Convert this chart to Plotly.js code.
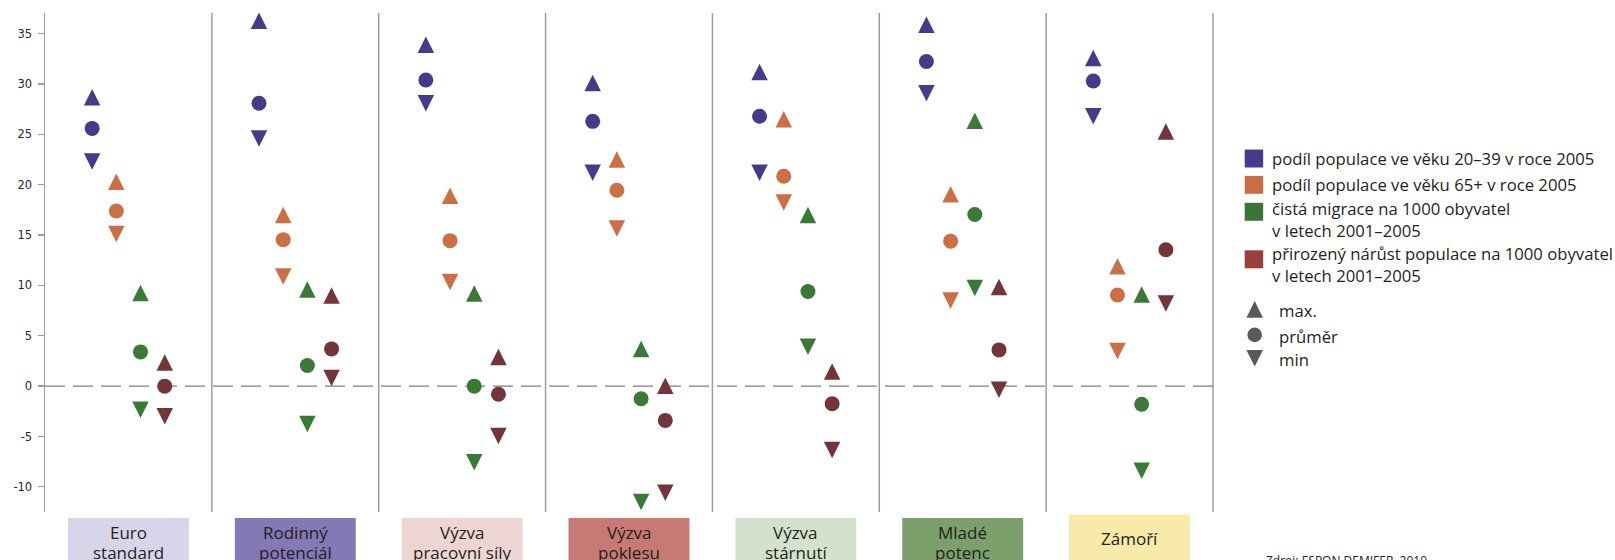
<!DOCTYPE html>
<html>
<head>
<meta charset="utf-8">
<script src="https://cdn.plot.ly/plotly-3.0.1.min.js"></script>
<style>
  html, body { margin: 0; padding: 0; background: #ffffff; }
  #chart { width: 1615px; height: 560px; }
</style>
</head>
<body>
<div id="chart"></div>
<script>
// ---------- DATA ----------
const categories = [
  "Euro<br>standard",
  "Rodinný<br>potenciál",
  "Výzva<br>pracovní síly",
  "Výzva<br>poklesu",
  "Výzva<br>stárnutí",
  "Mladé<br>potenc",
  "Zámoří"
];
const seriesNames = [
  "podíl populace ve věku 20–39 v roce 2005",
  "podíl populace ve věku 65+ v roce 2005",
  "čistá migrace na 1000 obyvatel<br>v letech 2001–2005",
  "přirozený nárůst populace na 1000 obyvatel<br>v letech 2001–2005"
];
const statNames = ["max.", "průměr", "min"];

// podíl populace 20–39
const young_max  = [28.7, 36.3, 33.9, 30.1, 31.2, 35.9, 32.6];
const young_mean = [25.6, 28.1, 30.4, 26.3, 26.8, 32.25, 30.3];
const young_min  = [22.3, 24.6, 28.1, 21.2, 21.2, 29.1, 26.8];
// podíl populace 65+
const old_max  = [20.3, 17.0, 18.9, 22.5, 26.5, 19.05, 11.9];
const old_mean = [17.4, 14.55, 14.45, 19.45, 20.85, 14.4, 9.05];
const old_min  = [15.1, 10.9, 10.35, 15.65, 18.25, 8.5, 3.5];
// čistá migrace
const mig_max  = [9.25, 9.6, 9.2, 3.7, 17.0, 26.35, 9.1];
const mig_mean = [3.4, 2.05, 0.0, -1.25, 9.4, 17.05, -1.8];
const mig_min  = [-2.35, -3.75, -7.55, -11.5, 3.9, 9.75, -8.4];
// přirozený nárůst
const nat_max  = [2.35, 9.0, 2.9, 0.05, 1.45, 9.85, 25.3];
const nat_mean = [0.0, 3.7, -0.8, -3.4, -1.75, 3.6, 13.55];
const nat_min  = [-3.0, 0.8, -4.95, -10.6, -6.35, -0.35, 8.2];

const yTickVals   = [-10, -5, 0, 5, 10, 15, 20, 25, 30, 35];
const yTickLabels = ["-10", "-5", "0", "5", "10", "15", "20", "25", "30", "35"];
const sourceText = "Zdroj: ESPON DEMIFER, 2010";

// ---------- STYLE ----------
const markerColors = ["#463a8b", "#cd6f45", "#3a7a36", "#733539"];
const legendColors = ["#463c8e", "#c96f48", "#3c7539", "#9a3f3b"];
const boxColors = ["#d8d5eb", "#8478b5", "#edd5d4", "#c67a73", "#d4e2cd", "#7ca06c", "#f8eaa8"];
const gridGrey = "#9c9c9c";
const textColor = "#231f20";
const symbolGrey = "#58595b";

const W = 1615, H = 560;
const M = {l: 44.5, r: 401.7, t: 12.5, b: 47.5};
const PW = W - M.l - M.r, PH = H - M.t - M.b;
const px2x = p => (p - M.l) / PW;
const px2y = p => (H - M.b - p) / PH;

const nCat = categories.length;
const xIdx = categories.map((c, i) => i);
const offsets = [-0.2175, -0.0725, 0.0725, 0.2175];

const seriesData = [
  [young_max, young_mean, young_min],
  [old_max, old_mean, old_min],
  [mig_max, mig_mean, mig_min],
  [nat_max, nat_mean, nat_min]
];

const traces = [];
seriesData.forEach((stats, s) => {
  stats.forEach((vals, k) => {
    let marker;
    if (k === 1) {
      marker = {symbol: "circle", size: 15, color: markerColors[s], line: {width: 0}};
    } else {
      marker = {symbol: "arrow-down", size: 16.5, standoff: 8.25, angle: k === 0 ? 180 : 0,
                color: markerColors[s], line: {width: 0}};
    }
    traces.push({
      type: "scatter", mode: "markers",
      x: xIdx.map(i => i + offsets[s]),
      y: vals,
      name: seriesNames[s].replace("<br>", " ") + " – " + statNames[k],
      marker: marker,
      cliponaxis: false,
      showlegend: false,
      hoverinfo: "y"
    });
  });
});

const shapes = [];
const annotations = [];

// vertical separators
for (let k = 1; k <= nCat; k++) {
  shapes.push({type: "line", xref: "paper", yref: "paper", x0: k / nCat, x1: k / nCat, y0: 0, y1: 1,
               line: {color: gridGrey, width: 1.5}, layer: "below"});
}
// dashed zero line
shapes.push({type: "line", xref: "paper", yref: "y", x0: 0, x1: 1, y0: 0, y1: 0,
             line: {color: "#7d7d7d", width: 1.2, dash: "20px,8px"}, layer: "below"});

// category boxes + labels
const boxHalf = 60.5 / PW;
categories.forEach((c, i) => {
  const xc = (i + 0.5) / nCat;
  const lines = c.split("<br>");
  const top = lines.length === 1 ? 515 : 518.5;
  shapes.push({type: "rect", xref: "paper", yref: "paper",
               x0: xc - boxHalf, x1: xc + boxHalf, y0: px2y(600), y1: px2y(top),
               fillcolor: boxColors[i], line: {width: 0}, layer: "below"});
  if (lines.length === 1) {
    annotations.push({xref: "paper", yref: "paper", x: xc, y: px2y(539.5), xanchor: "center", yanchor: "middle",
                      text: lines[0], showarrow: false, font: {family: "Open Sans", size: 17, color: textColor}});
  } else {
    lines.forEach((ln, j) => {
      annotations.push({xref: "paper", yref: "paper", x: xc, y: px2y(533 + j * 20), xanchor: "center", yanchor: "middle",
                        text: ln, showarrow: false, font: {family: "Open Sans", size: 17, color: textColor}});
    });
  }
});

// legend: colour squares and labels
const squareCenters = [158.3, 184.7, 211.7, 259.3];
const legendTextCenters = [158.3, 184.7, 219.5, 264.5];
seriesNames.forEach((nm, s) => {
  const cy = squareCenters[s];
  shapes.push({type: "rect", xref: "paper", yref: "paper",
               x0: px2x(1245), x1: px2x(1263.5), y0: px2y(cy + 9), y1: px2y(cy - 9),
               fillcolor: legendColors[s], line: {width: 0}});
  annotations.push({xref: "paper", yref: "paper", x: px2x(1270.5), y: px2y(legendTextCenters[s]),
                    xanchor: "left", yanchor: "middle", align: "left", text: nm, showarrow: false,
                    font: {family: "Open Sans", size: 16.7, color: textColor}});
});

// legend: symbol keys
const symCy = [309.5, 335, 358.5];
const sx = 1255, sh = 8.3;
shapes.push({type: "path", xref: "paper", yref: "paper",
  path: `M ${px2x(sx - sh)},${px2y(symCy[0] + sh)} L ${px2x(sx + sh)},${px2y(symCy[0] + sh)} L ${px2x(sx)},${px2y(symCy[0] - sh)} Z`,
  fillcolor: symbolGrey, line: {width: 0}});
shapes.push({type: "circle", xref: "paper", yref: "paper",
  x0: px2x(sx - 7.3), x1: px2x(sx + 7.3), y0: px2y(symCy[1] + 7.3), y1: px2y(symCy[1] - 7.3),
  fillcolor: symbolGrey, line: {width: 0}});
shapes.push({type: "path", xref: "paper", yref: "paper",
  path: `M ${px2x(sx - sh)},${px2y(symCy[2] - sh)} L ${px2x(sx + sh)},${px2y(symCy[2] - sh)} L ${px2x(sx)},${px2y(symCy[2] + sh)} Z`,
  fillcolor: symbolGrey, line: {width: 0}});
statNames.forEach((nm, k) => {
  annotations.push({xref: "paper", yref: "paper", x: px2x(1277), y: px2y(symCy[k] + 1.5),
                    xanchor: "left", yanchor: "middle", text: nm, showarrow: false,
                    font: {family: "Open Sans", size: 16.7, color: textColor}});
});

// source
annotations.push({xref: "paper", yref: "paper", x: px2x(1264), y: px2y(551), xanchor: "left", yanchor: "top",
                  text: sourceText, showarrow: false, font: {family: "Open Sans", size: 12, color: textColor}});

const layout = {
  width: W, height: H,
  margin: {l: M.l, r: M.r, t: M.t, b: M.b, pad: 0, autoexpand: false},
  paper_bgcolor: "#ffffff", plot_bgcolor: "#ffffff",
  showlegend: false,
  xaxis: {range: [-0.5, nCat - 0.5], showticklabels: false, showgrid: false, zeroline: false,
          showline: false, ticks: "", fixedrange: true},
  yaxis: {range: [-12.5, 37.06], tickmode: "array", tickvals: yTickVals, ticktext: yTickLabels,
          ticks: "outside", ticklen: 6, tickwidth: 1.3, tickcolor: gridGrey,
          showline: true, linecolor: gridGrey, linewidth: 1.5,
          showgrid: false, zeroline: false, ticklabelstandoff: 3,
          tickfont: {family: "DejaVu Sans", size: 11.5, color: "#2a2a2a"}, fixedrange: true},
  shapes: shapes,
  annotations: annotations
};

Plotly.newPlot("chart", traces, layout, {displayModeBar: false, staticPlot: true});
</script>
</body>
</html>
